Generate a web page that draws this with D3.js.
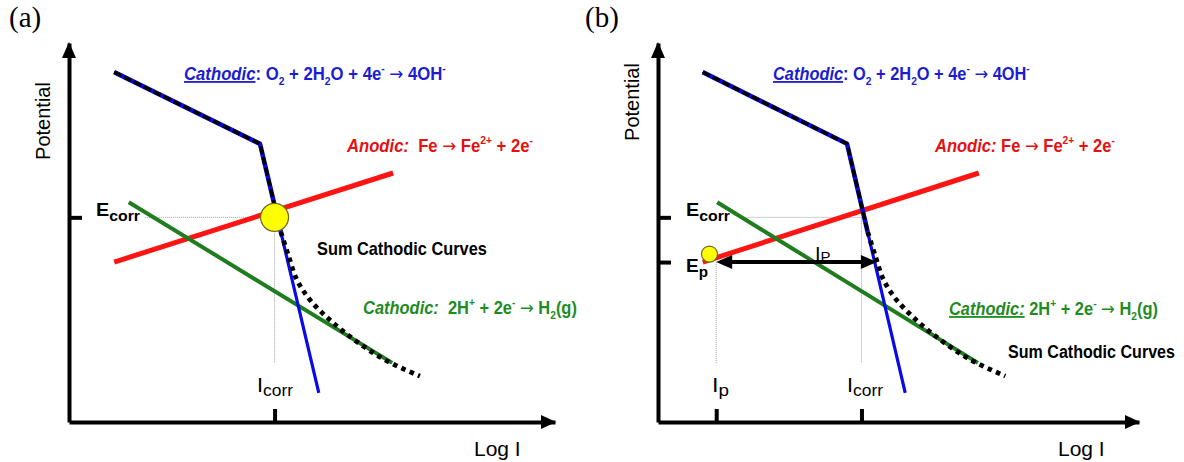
<!DOCTYPE html>
<html>
<head>
<meta charset="utf-8">
<script src="https://cdn.jsdelivr.net/npm/d3@7"></script>
<style>
  body { margin: 0; background: #fff; }
  svg { display: block; }
  text { font-family: "Liberation Sans", Arial, sans-serif; }
  .arw { font-family: "DejaVu Sans", sans-serif; font-weight: normal; }
</style>
</head>
<body>
<svg id="chart" width="1184" height="462"></svg>
<script>
// Evans diagram values: x = log I, y = potential (arbitrary units 0..10)
const o2Cathodic = [[0.93, 9.23], [3.93, 7.34], [5.14, 0.77]];
const anodicFe   = [[0.93, 4.22], [6.67, 6.57]];
const h2Cathodic = [[1.23, 5.80], [6.65, 1.56]];
// summed cathodic curve: upper part follows the O2 line, lower part bends toward H2 line
const sumUpper = [[0.93, 9.23], [3.93, 7.34], [4.36, 5.01]];
const sumLower = [[4.36, 5.01], [4.51, 4.41], [4.69, 3.75], [4.96, 3.22],
                  [5.37, 2.69], [5.88, 2.16], [6.50, 1.64], [7.22, 1.21]];
const eCorr = 5.40, iCorr = 4.23;
const eP = 4.22, iP = 1.21;
const passiveDot = [1.07, 4.43];
const ipArrowEnd = 4.55;
const guideFloor = 1.56;

const colors = {
  o2: "#0a0ae6", anodic: "#ff1414", h2: "#1f7d1f",
  o2Text: "#1c1cd0", anodicText: "#e61010", h2Text: "#1f8c1f"
};

const svg = d3.select("#chart");
const line = d3.line();
const curve = d3.line().curve(d3.curveCatmullRom.alpha(0.5));

// text with italic/underline runs and sub/superscripts, optionally stretched to a width
function richText(g, x, y, parts, o) {
  const wrap = g.append("g").attr("transform", `translate(${x},${y})`);
  const t = wrap.append("text").attr("x", 0).attr("y", 0)
    .attr("fill", o.color || "#000")
    .attr("font-size", o.size)
    .attr("font-weight", o.weight || "normal");
  let shift = 0;
  parts.forEach(p => {
    const s = t.append("tspan").text(p.t);
    let target = 0;
    if (p.sub) target = o.size * (p.subDy || 0.28);
    if (p.sup) target = -o.size * 0.42;
    if (target - shift !== 0) s.attr("dy", target - shift);
    shift = target;
    if (p.sub || p.sup) s.attr("font-size", o.size * (p.scale || 0.62));
    if (p.i) s.attr("font-style", "italic");
    if (p.u) s.attr("text-decoration", "underline");
    if (p.arrow) s.attr("class", "arw");
  });
  if (o.width) {
    const w = t.node().getComputedTextLength();
    wrap.attr("transform", `translate(${x},${y}) scale(${o.width / w},1)`);
  }
  return wrap;
}

function panel(cfg) {
  const x = d3.scaleLinear().domain([0, 10]).range([cfg.ox, cfg.ox + cfg.xLen]);
  const y = d3.scaleLinear().domain([0, 10]).range([cfg.oy, 43]);
  const g = svg.append("g");

  // panel tag
  g.append("text").attr("x", cfg.tagX).attr("y", 27)
    .style("font-family", "'Liberation Serif','Times New Roman',serif")
    .attr("font-size", 29).text(cfg.tag);

  // guide lines
  const guides = g.append("g").attr("stroke", "#a0a0a0").attr("stroke-width", 1)
    .attr("stroke-dasharray", "1,1").attr("fill", "none");
  cfg.guides(guides, x, y);

  // polarization lines
  g.append("path").attr("d", line(anodicFe.map(d => [x(d[0]), y(d[1])])))
    .attr("stroke", colors.anodic).attr("stroke-width", 5).attr("fill", "none");
  g.append("path").attr("d", line(h2Cathodic.map(d => [x(d[0]), y(d[1])])))
    .attr("stroke", colors.h2).attr("stroke-width", 4).attr("fill", "none");
  g.append("path").attr("d", line(o2Cathodic.map(d => [x(d[0]), y(d[1])])))
    .attr("stroke", colors.o2).attr("stroke-width", 3.2).attr("fill", "none")
    .attr("stroke-linejoin", "round");
  // the shared stretch is drawn wider in blue under the black dashes
  g.append("path").attr("d", line(sumUpper.map(d => [x(d[0]), y(d[1])])))
    .attr("stroke", colors.o2).attr("stroke-width", 4.6).attr("fill", "none")
    .attr("stroke-linejoin", "round");
  g.append("path").attr("d", line(sumUpper.map(d => [x(d[0]), y(d[1])])))
    .attr("stroke", "#000").attr("stroke-width", 3.6).attr("fill", "none")
    .attr("stroke-dasharray", "8,3");
  g.append("path").attr("d", curve(sumLower.map(d => [x(d[0]), y(d[1])])))
    .attr("stroke", "#000").attr("stroke-width", 4.8).attr("fill", "none")
    .attr("stroke-dasharray", "4.5,4.5");

  // axes with inward ticks
  const yAxis = d3.axisRight(y).tickValues(cfg.yTicks).tickSize(13).tickSizeOuter(0).tickFormat("");
  const xAxis = d3.axisTop(x).tickValues(cfg.xTicks).tickSize(13).tickSizeOuter(0).tickFormat("");
  const ya = g.append("g").attr("transform", `translate(${cfg.ox},0)`).call(yAxis);
  const xa = g.append("g").attr("transform", `translate(0,${cfg.oy})`).call(xAxis);
  [ya, xa].forEach(a => {
    a.select(".domain").attr("stroke", "#000").attr("stroke-width", 4);
    a.selectAll(".tick line").attr("stroke", "#000").attr("stroke-width", 4);
  });
  // axis arrowheads
  g.append("path").attr("fill", "#000")
    .attr("d", `M${cfg.ox},${y(10) - 1} L${cfg.ox - 7},${y(10) + 15} L${cfg.ox + 7},${y(10) + 15} Z`);
  g.append("path").attr("fill", "#000")
    .attr("d", `M${x(10) + 1},${cfg.oy} L${x(10) - 14},${cfg.oy - 7} L${x(10) - 14},${cfg.oy + 7} Z`);

  // axis titles
  g.append("text").attr("transform", `translate(${cfg.ox - 19},${cfg.potY}) rotate(-90)`)
    .attr("text-anchor", "middle").attr("font-size", 20).text("Potential");
  g.append("text").attr("x", x(10) - 81).attr("y", 456).attr("font-size", 21).text("Log I");

  cfg.extras(g, x, y);
}

function eLabel(g, xp, yp, sub, width) {
  richText(g, xp, yp, [{ t: "E" }, { t: sub, sub: true, scale: 0.8, subDy: 0.26 }],
    { size: 19, weight: "bold", width });
}
function iLabel(g, xp, yp, sub, width) {
  richText(g, xp, yp, [{ t: "I" }, { t: sub, sub: true, scale: 0.8, subDy: 0.2 }],
    { size: 21, width });
}

function o2Label(g, xp, w) {
  richText(g, xp, 80, [
    { t: "Cathodic", i: true, u: true }, { t: ": O" }, { t: "2", sub: true },
    { t: " + 2H" }, { t: "2", sub: true }, { t: "O + 4e" }, { t: "-", sup: true },
    { t: " " }, { t: "\u2192", arrow: true }, { t: " 4OH" }, { t: "-", sup: true }
  ], { size: 18, weight: "bold", color: colors.o2Text, width: w });
}

// panel (a): corrosion potential at the O2 / anodic intersection
panel({
  tag: "(a)", tagX: 9, ox: 69, oy: 422, xLen: 486, potY: 121,
  yTicks: [eCorr], xTicks: [iCorr],
  guides(gg, x, y) {
    gg.append("line").attr("x1", x(1.56)).attr("x2", x(iCorr)).attr("y1", y(eCorr)).attr("y2", y(eCorr));
    gg.append("line").attr("x1", x(iCorr)).attr("x2", x(iCorr)).attr("y1", y(eCorr)).attr("y2", y(guideFloor));
  },
  extras(g, x, y) {
    g.append("circle").attr("cx", x(iCorr)).attr("cy", y(eCorr)).attr("r", 14)
      .attr("fill", "#ffff00").attr("stroke", "#6e6e28").attr("stroke-width", 1.3);
    o2Label(g, 184, 262);
    richText(g, 347, 152, [
      { t: "Anodic:", i: true }, { t: "\u00a0 Fe " }, { t: "\u2192", arrow: true }, { t: " Fe" },
      { t: "2+", sup: true }, { t: " + 2e" }, { t: "-", sup: true }
    ], { size: 18, weight: "bold", color: colors.anodicText, width: 186 });
    richText(g, 317, 255, [{ t: "Sum Cathodic Curves" }], { size: 17.5, weight: "bold", width: 170 });
    richText(g, 363, 314, [
      { t: "Cathodic:", i: true }, { t: "\u00a0 2H" }, { t: "+", sup: true },
      { t: " + 2e" }, { t: "-", sup: true }, { t: " " }, { t: "\u2192", arrow: true }, { t: " H" },
      { t: "2", sub: true }, { t: "(g)" }
    ], { size: 18, weight: "bold", color: colors.h2Text, width: 214 });
    eLabel(g, 96, 216, "corr", 44);
    iLabel(g, 257, 392, "corr", 36);
  }
});

// panel (b): passivation current I_P at potential E_P
panel({
  tag: "(b)", tagX: 585, ox: 658, oy: 422, xLen: 481, potY: 102,
  yTicks: [eCorr, eP], xTicks: [iP, iCorr],
  guides(gg, x, y) {
    gg.append("line").attr("x1", x(1.8)).attr("x2", x(iCorr)).attr("y1", y(eCorr)).attr("y2", y(eCorr));
    gg.append("line").attr("x1", x(iCorr)).attr("x2", x(iCorr)).attr("y1", y(eCorr)).attr("y2", y(guideFloor));
    gg.append("line").attr("x1", x(iP)).attr("x2", x(iP)).attr("y1", y(eP)).attr("y2", y(guideFloor));
  },
  extras(g, x, y) {
    g.append("circle").attr("cx", x(passiveDot[0])).attr("cy", y(passiveDot[1])).attr("r", 8)
      .attr("fill", "#ffff00").attr("stroke", "#6e6e28").attr("stroke-width", 1.2);
    // I_P label sits under the double arrow
    richText(g, 815, 261, [{ t: "I" }, { t: "P", sub: true, scale: 0.75, subDy: 0.05 }], { size: 20 });
    const x0 = x(iP), x1 = x(ipArrowEnd), ya = y(eP);
    g.append("line").attr("x1", x0 + 10).attr("x2", x1 - 10).attr("y1", ya).attr("y2", ya)
      .attr("stroke", "#000").attr("stroke-width", 4);
    g.append("path").attr("fill", "#000")
      .attr("d", `M${x0},${ya} L${x0 + 16},${ya - 7} L${x0 + 16},${ya + 7} Z`);
    g.append("path").attr("fill", "#000")
      .attr("d", `M${x1},${ya} L${x1 - 16},${ya - 7} L${x1 - 16},${ya + 7} Z`);

    o2Label(g, 773, 257);
    richText(g, 935, 152, [
      { t: "Anodic:", i: true }, { t: " Fe " }, { t: "\u2192", arrow: true }, { t: " Fe" },
      { t: "2+", sup: true }, { t: " + 2e" }, { t: "-", sup: true }
    ], { size: 18, weight: "bold", color: colors.anodicText, width: 180 });
    richText(g, 949, 315, [
      { t: "Cathodic:", i: true, u: true }, { t: " 2H" }, { t: "+", sup: true },
      { t: " + 2e" }, { t: "-", sup: true }, { t: " " }, { t: "\u2192", arrow: true }, { t: " H" },
      { t: "2", sub: true }, { t: "(g)" }
    ], { size: 18, weight: "bold", color: colors.h2Text, width: 209 });
    richText(g, 1008, 358, [{ t: "Sum Cathodic Curves" }], { size: 17.5, weight: "bold", width: 167 });
    eLabel(g, 686, 216, "corr", 44);
    eLabel(g, 686, 272, "p", 22);
    iLabel(g, 712, 392, "p", 17);
    iLabel(g, 847, 392, "corr", 36);
  }
});
</script>
</body>
</html>
